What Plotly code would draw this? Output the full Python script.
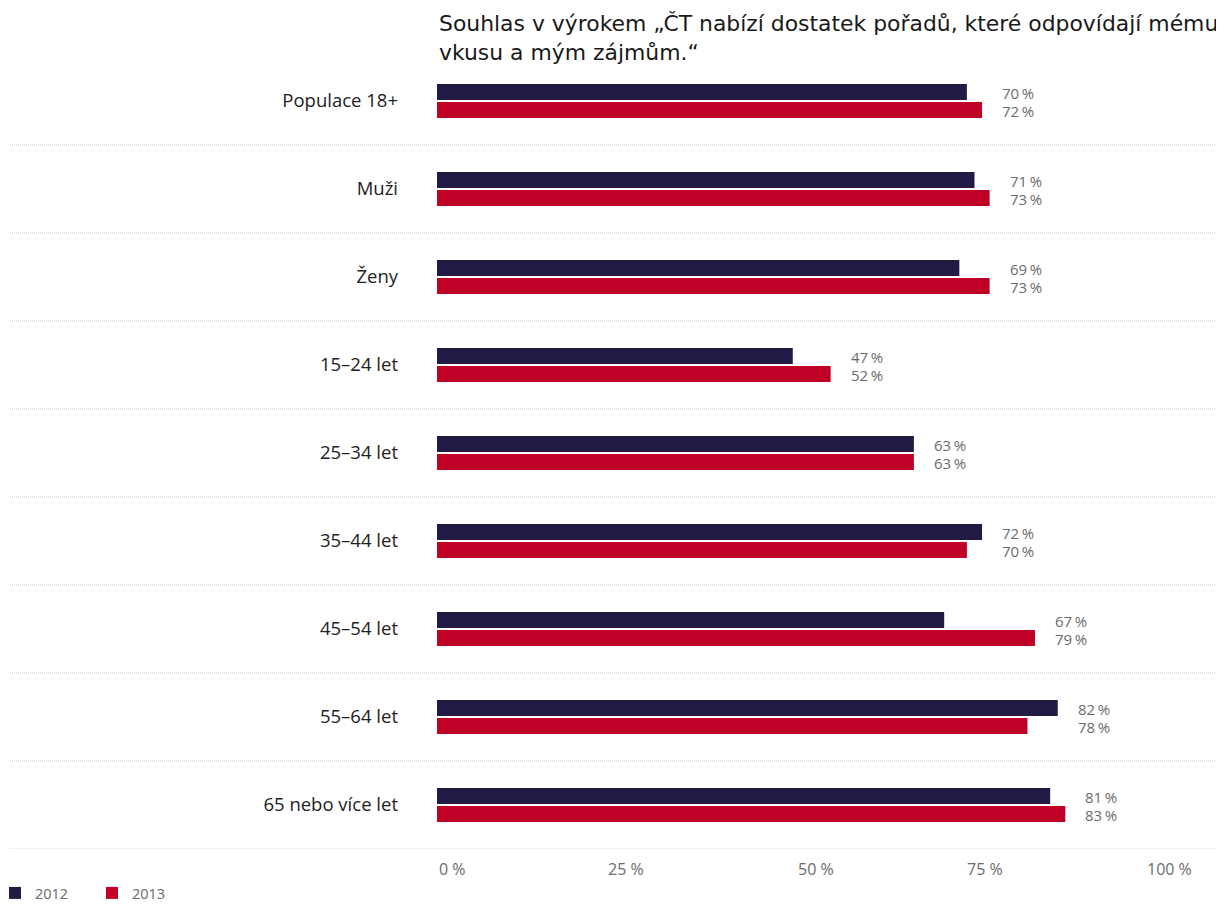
import plotly.graph_objects as go

categories = ["Populace 18+", "Muži", "Ženy", "15–24 let", "25–34 let",
              "35–44 let", "45–54 let", "55–64 let", "65 nebo více let"]
values_2012 = [70, 71, 69, 47, 63, 72, 67, 82, 81]
values_2013 = [72, 73, 73, 52, 63, 70, 79, 78, 83]
series_names = ["2012", "2013"]
tick_values = [0, 25, 50, 75, 100]
tick_labels = ["0 %", "25 %", "50 %", "75 %", "100 %"]
title_lines = ["Souhlas v výrokem „ČT nabízí dostatek pořadů, které odpovídají mému",
               "vkusu a mým zájmům.“"]

NAVY = "#211b46"
RED = "#c00027"
FONT = "Open Sans"
TITLE_FONT = "DejaVu Sans"

# page has an 8px body margin; figure sized so it fills the 1224x904 window
W, H = 1216, 896
ML, MR, MT, MB = 429, 30, 49, 55
plot_w = W - ML - MR
plot_h = H - MT - MB

fig = go.Figure()
fig.add_trace(go.Bar(y=categories, x=values_2012, name=series_names[0], orientation="h",
                     marker=dict(color=NAVY, line=dict(width=0)), hoverinfo="x+y"))
fig.add_trace(go.Bar(y=categories, x=values_2013, name=series_names[1], orientation="h",
                     marker=dict(color=RED, line=dict(width=0)), hoverinfo="x+y"))

annotations = []
# title, two lines
for k, line in enumerate(title_lines):
    annotations.append(dict(x=0, y=1, xref="paper", yref="paper", xanchor="left",
                            yanchor="middle", yshift=MT - 15 - 29 * k, text=line,
                            showarrow=False,
                            font=dict(family=TITLE_FONT, size=21.9, color="#1a1a1a")))
# value labels, right-aligned a fixed distance past the longer bar of each group
for i, cat in enumerate(categories):
    m = max(values_2012[i], values_2013[i])
    for v, off in ((values_2012[i], -0.1023), (values_2013[i], 0.1023)):
        annotations.append(dict(x=m, y=i + off, xref="x", yref="y", xshift=53,
                                text=f"{v}\u2009%", showarrow=False, xanchor="right",
                                yanchor="middle", height=17, borderpad=0,
                                font=dict(family=FONT, size=15, color="#6b6b6b")))
# x tick labels
anchors = ["left", "center", "center", "right", "right"]
for tv, tl, anc in zip(tick_values, tick_labels, anchors):
    annotations.append(dict(x=tv, y=0, xref="x", yref="paper", yshift=-20, text=tl,
                            showarrow=False, xanchor=anc, yanchor="middle",
                            font=dict(family=FONT, size=16, color="#6b6b6b")))

shapes = []
for i in range(len(categories)):
    shapes.append(dict(type="line", xref="paper", yref="y",
                       x0=(2 - ML) / plot_w, x1=(1212 - ML) / plot_w,
                       y0=i + 0.5, y1=i + 0.5,
                       line=dict(color="#c4c4c4", width=1, dash="1px,1px")))

fig.update_layout(
    width=W, height=H,
    margin=dict(l=ML, r=MR, t=MT, b=MB, pad=0, autoexpand=False),
    paper_bgcolor="white", plot_bgcolor="white",
    barmode="group", bargap=0.591, bargroupgap=0.111,
    xaxis=dict(range=[0, 100], showgrid=False, zeroline=False, showticklabels=False,
               showline=False, fixedrange=True),
    yaxis=dict(type="category", range=[8.5, -0.5], showgrid=False, zeroline=False,
               showline=False, ticks="", ticklabelstandoff=38,
               tickfont=dict(family=FONT, size=18.5, color="#222222")),
    legend=dict(orientation="h", x=(-13 - ML) / plot_w, xanchor="left",
                y=-(885 - (H - MB)) / plot_h, yanchor="middle", traceorder="normal",
                font=dict(family=FONT, size=14.5, color="#6b6b6b"),
                entrywidth=52, entrywidthmode="pixels", itemwidth=30),
    annotations=annotations, shapes=shapes,
    showlegend=True,
)

fig.write_html("out.html")
